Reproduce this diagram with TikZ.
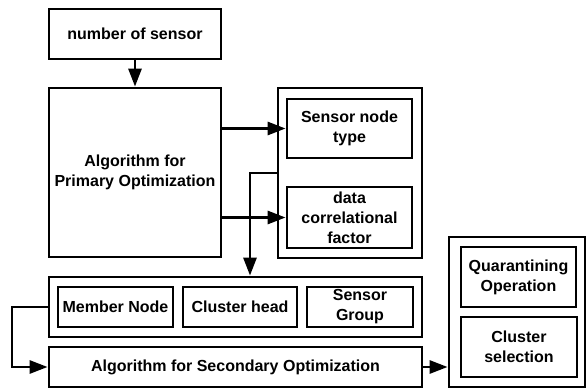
\documentclass[tikz,border=0pt]{standalone}
\usepackage{fontspec}
\setmainfont{Liberation Sans}
\usetikzlibrary{arrows.meta}
\begin{document}
\begin{tikzpicture}[x=1pt,y=-1pt,
  box/.style={draw, line width=2.8pt, inner sep=0pt, align=center,
    font=\fontsize{16}{20}\selectfont\bfseries},
  arr/.style={line width=2.8pt, -{Triangle[length=18pt,width=13pt]}},
  wire/.style={line width=2.8pt}]
\useasboundingbox (0,0) rectangle (587,390);

% top chain
\node[box, minimum width=172pt, minimum height=50pt] (number) at (135,34) {number of sensor};
\node[box, minimum width=172pt, minimum height=169pt] (primary) at (135,172.5) {Algorithm for\\Primary Optimization};

% parameter group
\node[box, minimum width=144pt, minimum height=170pt] (rcont) at (350,173) {};
\node[box, minimum width=125pt, minimum height=59pt] (snt) at (349.5,128.5) {Sensor node\\type};
\node[box, minimum width=125pt, minimum height=61pt] (dcf) at (349.5,217.5) {data\\correlational\\factor};

% clustering group
\node[box, minimum width=373pt, minimum height=60pt] (bcont) at (235.5,307) {};
\node[box, minimum width=115pt, minimum height=40pt] (member) at (115.5,307) {Member Node};
\node[box, minimum width=114pt, minimum height=40pt] (chead) at (240,307) {Cluster head};
\node[box, minimum width=106pt, minimum height=40pt] (sgroup) at (360,307) {Sensor\\Group};

% secondary stage
\node[box, minimum width=373pt, minimum height=40pt] (second) at (235.5,367) {Algorithm for Secondary Optimization};

% output group
\node[box, minimum width=136pt, minimum height=150pt] (qcont) at (517,312) {};
\node[box, minimum width=115pt, minimum height=60pt] (quar) at (518.5,277) {Quarantining\\Operation};
\node[box, minimum width=116pt, minimum height=60pt] (clsel) at (519,347) {Cluster\\selection};

% connectors
\draw[arr] (number.south) -- (primary.north);
\draw[arr] (primary.east |- snt.west) -- (snt.west);
\draw[arr] (primary.east |- dcf.west) -- (dcf.west);
\coordinate (drop) at (250,173);
\draw[arr] (rcont.west) -- (drop) -- (drop |- bcont.north);
\coordinate (loop) at (12,307);
\draw[arr] (bcont.west) -- (loop) |- (second.west);
\draw[arr] (second.east) -- (qcont.west |- second.east);
\end{tikzpicture}
\end{document}
